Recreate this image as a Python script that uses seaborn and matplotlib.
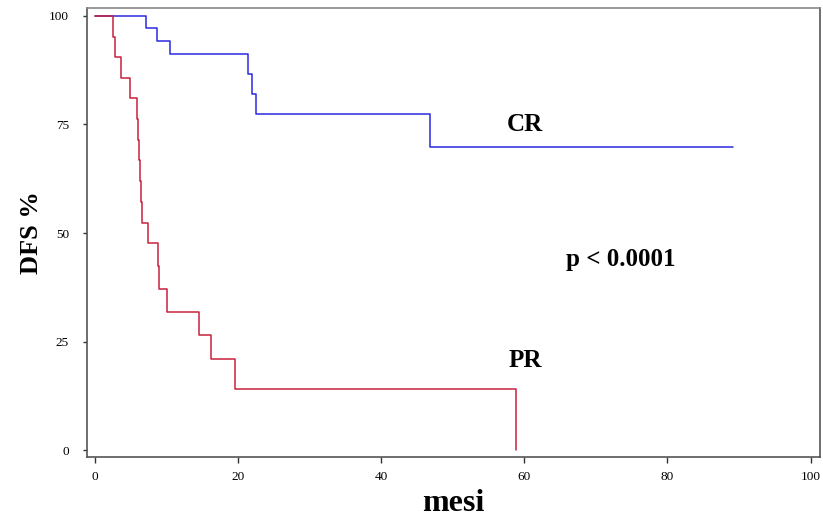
import matplotlib
matplotlib.use("Agg")
import matplotlib.pyplot as plt
import pandas as pd
import seaborn as sns

# curve CR (risposta completa) - tempi in mesi, DFS %
cr_mesi = [0, 7.1, 8.7, 10.5, 21.4, 21.9, 22.5, 46.8, 89.1]
cr_dfs = [100, 97.1, 94.2, 91.3, 86.7, 82.0, 77.4, 69.7, 69.7]

# curve PR (risposta parziale)
pr_mesi = [0, 2.5, 2.8, 3.6, 4.9, 5.9, 6.0, 6.1, 6.25, 6.4, 6.6, 7.4, 8.8, 8.95,
           10.1, 14.5, 16.2, 19.6, 58.9]
pr_dfs = [100, 95.2, 90.5, 85.7, 81.0, 76.2, 71.4, 66.7, 61.9, 57.1, 52.4, 47.6,
          42.4, 37.0, 31.7, 26.4, 21.1, 14.1, 0]

x_ticks = [0, 20, 40, 60, 80, 100]
y_ticks = [0, 25, 50, 75, 100]

sns.set_style("white")
plt.rcParams['font.family'] = ['Liberation Serif', 'DejaVu Serif']
plt.rcParams['text.color'] = 'black'
plt.rcParams['axes.labelcolor'] = 'black'

df_cr = pd.DataFrame({'mesi': cr_mesi, 'dfs': cr_dfs})
df_pr = pd.DataFrame({'mesi': pr_mesi, 'dfs': pr_dfs})

fig = plt.figure(figsize=(8.23, 5.2), dpi=100)
ax = fig.add_axes([0.1057, 0.121, 0.8906, 0.8635])

sns.lineplot(data=df_cr, x='mesi', y='dfs', ax=ax, color='#2a2ae0', lw=1.1,
             drawstyle='steps-post', estimator=None, sort=False)
sns.lineplot(data=df_pr, x='mesi', y='dfs', ax=ax, color='#c8203c', lw=1.1,
             drawstyle='steps-post', estimator=None, sort=False)

ax.set_xlim(-1.1, 101.3)
ax.set_ylim(-1.6, 101.8)
ax.set_xticks(x_ticks)
ax.set_yticks(y_ticks)
ax.tick_params(axis='x', direction='out', length=4, width=1, pad=6, labelsize=9.5,
               bottom=True, colors='#333333')
ax.tick_params(axis='y', direction='out', length=3, width=1, pad=10, labelsize=9.5,
               left=True, colors='#333333')
for lab in ax.get_xticklabels() + ax.get_yticklabels():
    lab.set_color('black')

for side, sp in ax.spines.items():
    sp.set_visible(True)
    sp.set_color('#555555')
    sp.set_linewidth(1.2)
ax.spines['top'].set_color('#888888')

ax.set_xlabel('mesi', fontsize=23, fontweight='bold', labelpad=4)
ax.set_ylabel('DFS %', fontsize=19, fontweight='bold', labelpad=4)

ax.text(60.1, 75.1, 'CR', fontsize=18, fontweight='bold', ha='center', va='center')
ax.text(60.1, 20.7, 'PR', fontsize=18, fontweight='bold', ha='center', va='center')
ax.text(73.5, 43.8, 'p < 0.0001', fontsize=18, fontweight='bold', ha='center', va='center')

fig.savefig('out.png', dpi=100)
